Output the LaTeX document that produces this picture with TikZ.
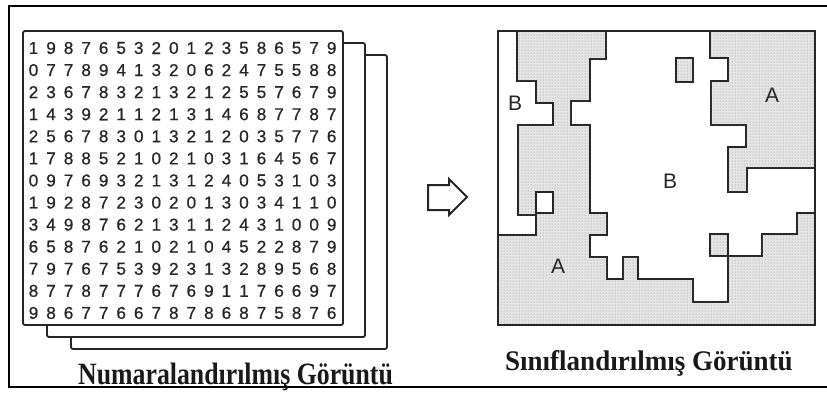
\documentclass[tikz,border=0pt]{standalone}
\usepackage{fontspec}
\usepackage{graphicx}
\setmainfont{Liberation Serif}
\setsansfont{Liberation Sans}
\newfontfamily\digitfont[FakeBold=0.6]{Liberation Sans}
\usetikzlibrary{patterns}
\begin{document}
\begin{tikzpicture}[x=1pt,y=-1pt,line join=miter,
  sheet/.style={draw=black!85,line width=1.8pt,fill=white,rounded corners=2pt},
  region/.style={draw=black!85,line width=1.8pt,fill=gray!20,postaction={pattern=dots,pattern color=black!45}},
  hole/.style={draw=black!85,line width=1.8pt,fill=white},
  digit/.style={font=\digitfont\fontsize{17.2}{19}\selectfont,text=black!85,inner sep=0pt},
  maplabel/.style={font=\sffamily\fontsize{21}{24}\selectfont,text=black!85,inner sep=0pt},
  caption/.style={font=\bfseries,text=black!90,inner sep=0pt,anchor=base west}]
\useasboundingbox (0,0) rectangle (827,392);
\fill[white] (0,0) rectangle (827,392);
\draw[line width=2pt] (832,6) -- (9,6) -- (9,387) -- (832,387);
% sheets
\draw[sheet] (71,55) rectangle (387,349);
\draw[sheet] (47,43) rectangle (365,337);
\draw[sheet] (23,31) rectangle (343,325);
% digits
\foreach \r [count=\i from 0] in {
 {1,9,8,7,6,5,3,2,0,1,2,3,5,8,6,5,7,9},
 {0,7,7,8,9,4,1,3,2,0,6,2,4,7,5,5,8,8},
 {2,3,6,7,8,3,2,1,3,2,1,2,5,5,7,6,7,9},
 {1,4,3,9,2,1,1,2,1,3,1,4,6,8,7,7,8,7},
 {2,5,6,7,8,3,0,1,3,2,1,2,0,3,5,7,7,6},
 {1,7,8,8,5,2,1,0,2,1,0,3,1,6,4,5,6,7},
 {0,9,7,6,9,3,2,1,3,1,2,4,0,5,3,1,0,3},
 {1,9,2,8,7,2,3,0,2,0,1,3,0,3,4,1,1,0},
 {3,4,9,8,7,6,2,1,3,1,1,2,4,3,1,0,0,9},
 {6,5,8,7,6,2,1,0,2,1,0,4,5,2,2,8,7,9},
 {7,9,7,6,7,5,3,9,2,3,1,3,2,8,9,5,6,8},
 {8,7,7,8,7,7,7,6,7,6,9,1,1,7,6,6,9,7},
 {9,8,6,7,7,6,6,7,8,7,8,6,8,7,5,8,7,6}}
 \foreach \d [count=\j from 0] in \r
  \node[digit] (d-\i-\j) at (33.5+17.54*\j,48+22.08*\i) {\d};
% arrow
\draw[line width=2pt,draw=black!85,fill=white] (428,185) -- (449,185) -- (449,179) -- (467,197) -- (449,215) -- (449,210) -- (428,210) -- cycle;
% map regions
\draw[region] (517,31) -- (606,31) -- (606,59) -- (590,59) -- (590,101) -- (571,101) -- (571,125) -- (590,125)
  -- (590,213) -- (607,213) -- (607,235) -- (590,235) -- (590,257) -- (607,257) -- (607,279) -- (623,279)
  -- (623,257) -- (638,257) -- (638,279) -- (693,279) -- (693,302) -- (728,302) -- (728,256) -- (762,256)
  -- (762,234) -- (797,234) -- (797,213) -- (815,213) -- (815,325) -- (498,325) -- (498,235) -- (536,235)
  -- (536,215) -- (518,215) -- (518,125) -- (553,125) -- (553,103) -- (536,103) -- (536,81) -- (517,81) -- cycle;
\draw[region] (710,31) -- (815,31) -- (815,168) -- (747,168) -- (747,192) -- (728,192) -- (728,147) -- (746,147)
  -- (746,125) -- (711,125) -- (711,81) -- (728,81) -- (728,58) -- (710,58) -- cycle;
\draw[region] (676,58) rectangle (693,82);
\draw[region] (710,234) rectangle (728,256);
\draw[hole] (536,192) rectangle (553,213);
\draw[line width=1.8pt,draw=black!85] (498,31) rectangle (815,325);
% map labels
\node[maplabel] (lb1) at (515,103) {B};
\node[maplabel] (la1) at (772,95) {A};
\node[maplabel] (lb2) at (670,181) {B};
\node[maplabel] (la2) at (558,266) {A};
% captions
\node[caption] (cap1) at (78,384) {\scalebox{1}[1.2]{\fontsize{25.8}{28}\selectfont Numaralandırılmış Görüntü}};
\node[caption] (cap2) at (505,370) {\scalebox{1}[1.05]{\fontsize{27}{30}\selectfont Sınıflandırılmış Görüntü}};
\end{tikzpicture}
\end{document}
